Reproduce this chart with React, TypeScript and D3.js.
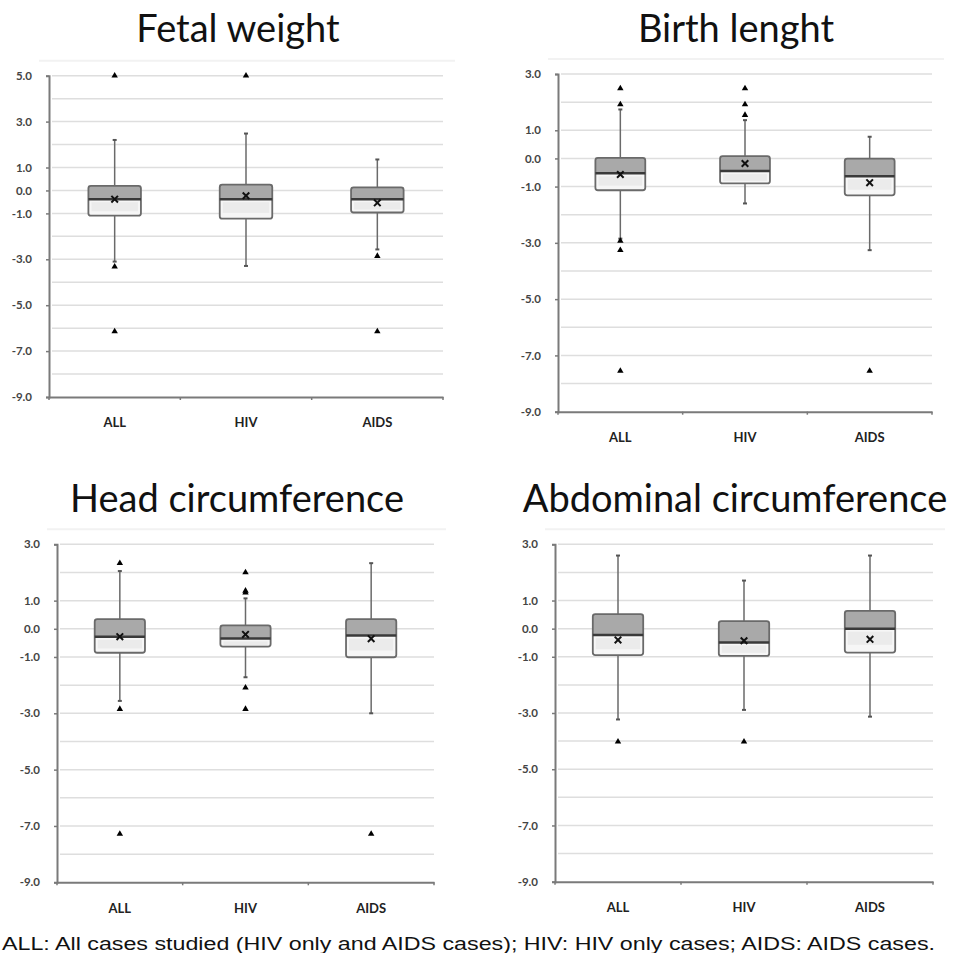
import * as d3 from 'd3';
import React, { useRef, useEffect } from 'react';

// groups on the x axis
const categories = ['ALL', 'HIV', 'AIDS'];

const titles = ['Fetal weight', 'Birth lenght', 'Head circumference', 'Abdominal circumference'];

// each row: [lower whisker, Q1, median, Q3, upper whisker, mean]
const fetalWeightStats = [
    [-3.1, -1.1, -0.38, 0.2, 2.2, -0.38],
    [-3.29, -1.23, -0.38, 0.25, 2.48, -0.23],
    [-2.57, -0.96, -0.38, 0.13, 1.35, -0.54]
];
const fetalWeightOutliers = [[5.0, -3.32, -6.14], [5.0], [-2.86, -6.14]];

const birthLengthStats = [
    [-2.85, -1.13, -0.53, 0.02, 1.74, -0.57],
    [-1.6, -0.89, -0.45, 0.08, 1.36, -0.18],
    [-3.26, -1.31, -0.63, -0.01, 0.77, -0.86]
];
const birthLengthOutliers = [[2.49, 1.92, -2.93, -3.26, -7.55], [2.49, 1.92, 1.54], [-7.55]];

const headCircStats = [
    [-2.56, -0.85, -0.28, 0.34, 2.05, -0.28],
    [-1.72, -0.63, -0.34, 0.12, 1.08, -0.2],
    [-3.0, -1.01, -0.24, 0.34, 2.33, -0.35]
];
const headCircOutliers = [[2.33, -2.85, -7.28], [2.0, 1.35, 1.28, -2.09, -2.85], [-7.28]];

const abdominalCircStats = [
    [-3.23, -0.94, -0.23, 0.52, 2.6, -0.4],
    [-2.89, -0.97, -0.49, 0.27, 1.71, -0.43],
    [-3.13, -0.85, 0.0, 0.63, 2.6, -0.38]
];
const abdominalCircOutliers = [[-4.02], [-4.02], []];

// labelled values on the y axes
const fetalWeightTicks = [5, 3, 1, 0, -1, -3, -5, -7, -9];
const lengthTicks = [3, 1, 0, -1, -3, -5, -7, -9];

const footnote = 'ALL: All cases studied (HIV only and AIDS cases); HIV: HIV only cases; AIDS: AIDS cases.';

const App = () => {
    const svgRef = useRef(null);

    useEffect(() => {
        document.body.style.margin = '0';
        const width = 957;
        const height = 953;

        d3.select(svgRef.current).select('svg').remove();
        const svg = d3.select(svgRef.current)
            .append('svg')
            .attr('width', width)
            .attr('height', height)
            .style('display', 'block')
            .style('background', '#fff');

        // panel layout: plot box, title position, y max
        const panels = [
            { stats: fetalWeightStats, outliers: fetalWeightOutliers, ticks: fetalWeightTicks, max: 5,
              left: 49, right: 443, top: 75.7, bottom: 397, titleX: 238, titleY: 42 },
            { stats: birthLengthStats, outliers: birthLengthOutliers, ticks: lengthTicks, max: 3,
              left: 558, right: 932, top: 74, bottom: 411.7, titleX: 736, titleY: 42 },
            { stats: headCircStats, outliers: headCircOutliers, ticks: lengthTicks, max: 3,
              left: 57, right: 434, top: 544.3, bottom: 882.3, titleX: 237, titleY: 512 },
            { stats: abdominalCircStats, outliers: abdominalCircOutliers, ticks: lengthTicks, max: 3,
              left: 555, right: 933, top: 544.3, bottom: 881.7, titleX: 735, titleY: 512 }
        ];

        panels.forEach((p, pi) => {
            const g = svg.append('g');

            const x = d3.scaleBand()
                .domain(categories)
                .range([p.left, p.right]);
            const y = d3.scaleLinear()
                .domain([-9, p.max])
                .range([p.bottom, p.top]);
            const boxW = x.bandwidth() * 0.4;

            // title
            g.append('text')
                .attr('x', p.titleX)
                .attr('y', p.titleY)
                .attr('text-anchor', 'middle')
                .style('font-family', 'Lato, sans-serif')
                .style('font-size', '38px')
                .style('fill', '#111')
                .text(titles[pi]);

            // faint chart area border line
            g.append('line')
                .attr('x1', p.left - 10).attr('x2', p.right + 12)
                .attr('y1', p.top - 15).attr('y2', p.top - 15)
                .style('stroke', '#f2f2f2')
                .style('stroke-width', 2);

            // grid lines every 1 unit
            g.append('g')
                .selectAll('line')
                .data(d3.range(-8, p.max + 1))
                .enter().append('line')
                .attr('x1', p.left + 3)
                .attr('x2', p.right)
                .attr('y1', (d) => y(d))
                .attr('y2', (d) => y(d))
                .style('stroke', '#dedede')
                .style('stroke-width', 1.5);

            // y axis
            const yAxis = g.append('g')
                .attr('transform', `translate(${p.left},0)`)
                .call(d3.axisLeft(y).tickValues(p.ticks).tickSize(3).tickPadding(14)
                    .tickFormat((d) => d.toFixed(1)));
            yAxis.select('.domain').style('stroke', '#7a7a7a').style('stroke-width', 2);
            yAxis.selectAll('line').style('stroke', '#7a7a7a').style('stroke-width', 1.5);
            yAxis.selectAll('text')
                .style('font-family', 'Lato, sans-serif')
                .style('font-weight', 'bold')
                .style('font-size', '11.5px')
                .style('fill', '#444');

            // x axis with ticks on the category borders
            const xAxis = g.append('g')
                .attr('transform', `translate(0,${p.bottom})`)
                .call(d3.axisBottom(x).tickSize(0).tickPadding(21).tickSizeOuter(0));
            xAxis.select('.domain').style('stroke', '#7a7a7a').style('stroke-width', 2);
            xAxis.selectAll('text')
                .style('font-family', 'Lato, sans-serif')
                .style('font-weight', 'bold')
                .style('font-size', '13px')
                .style('fill', '#222');
            xAxis.selectAll('.border')
                .data([p.left, ...categories.map((c) => x(c) + x.bandwidth())])
                .enter().append('line')
                .attr('class', 'border')
                .attr('x1', (d) => d).attr('x2', (d) => d)
                .attr('y1', 0).attr('y2', 3)
                .style('stroke', '#7a7a7a')
                .style('stroke-width', 1.5);

            const groups = g.append('g')
                .selectAll('g')
                .data(p.stats)
                .enter().append('g')
                .attr('transform', (d, i) => `translate(${x(categories[i]) + x.bandwidth() / 2},0)`);

            // whiskers
            groups.append('line')
                .attr('y1', (d) => y(d[0]))
                .attr('y2', (d) => y(d[4]))
                .style('stroke', '#6a6a6a')
                .style('stroke-width', 1.5);
            [0, 4].forEach((k) => {
                groups.append('line')
                    .attr('x1', -2).attr('x2', 2)
                    .attr('y1', (d) => y(d[k]))
                    .attr('y2', (d) => y(d[k]))
                    .style('stroke', '#555')
                    .style('stroke-width', 2);
            });

            // lower box part (Q1 to median)
            groups.append('rect')
                .attr('x', -boxW / 2)
                .attr('width', boxW)
                .attr('y', (d) => y(d[2]))
                .attr('height', (d) => y(d[1]) - y(d[2]))
                .style('fill', '#f6f6f6');
            groups.append('rect')
                .attr('x', -boxW / 2 + 3)
                .attr('width', boxW - 6)
                .attr('y', (d) => y(d[2]) + 3)
                .attr('height', (d) => Math.max(0, (y(d[1]) - y(d[2])) * 0.55))
                .style('fill', '#ebebeb');
            // upper box part (median to Q3)
            groups.append('rect')
                .attr('x', -boxW / 2)
                .attr('width', boxW)
                .attr('y', (d) => y(d[3]))
                .attr('height', (d) => y(d[2]) - y(d[3]))
                .style('fill', '#a9a9a9');
            // box outline
            groups.append('rect')
                .attr('x', -boxW / 2)
                .attr('width', boxW)
                .attr('y', (d) => y(d[3]))
                .attr('height', (d) => y(d[1]) - y(d[3]))
                .attr('rx', 2.5)
                .style('fill', 'none')
                .style('stroke', '#6a6a6a')
                .style('stroke-width', 1.8);
            // median
            groups.append('line')
                .attr('x1', -boxW / 2).attr('x2', boxW / 2)
                .attr('y1', (d) => y(d[2]))
                .attr('y2', (d) => y(d[2]))
                .style('stroke', '#3a3a3a')
                .style('stroke-width', 2.5);
            // mean marker
            groups.append('path')
                .attr('transform', (d) => `translate(0,${y(d[5])})`)
                .attr('d', d3.symbol().type(d3.symbolTimes).size(30))
                .style('fill', 'none')
                .style('stroke', '#111')
                .style('stroke-width', 2);

            // outliers
            groups.each(function (d, i) {
                d3.select(this).selectAll('.out')
                    .data(p.outliers[i])
                    .enter().append('path')
                    .attr('class', 'out')
                    .attr('transform', (v) => `translate(0,${y(v)})`)
                    .attr('d', d3.symbol().type(d3.symbolTriangle).size(18))
                    .style('fill', '#000');
            });
        });

        // footnote
        svg.append('text')
            .attr('x', 2)
            .attr('y', 950)
            .attr('textLength', 933)
            .attr('lengthAdjust', 'spacingAndGlyphs')
            .style('font-family', '"Liberation Sans", Arial, sans-serif')
            .style('font-size', '17.5px')
            .style('fill', '#111')
            .text(footnote);
    }, []);

    return (
        <div ref={svgRef}></div>
    );
};

export default App;
